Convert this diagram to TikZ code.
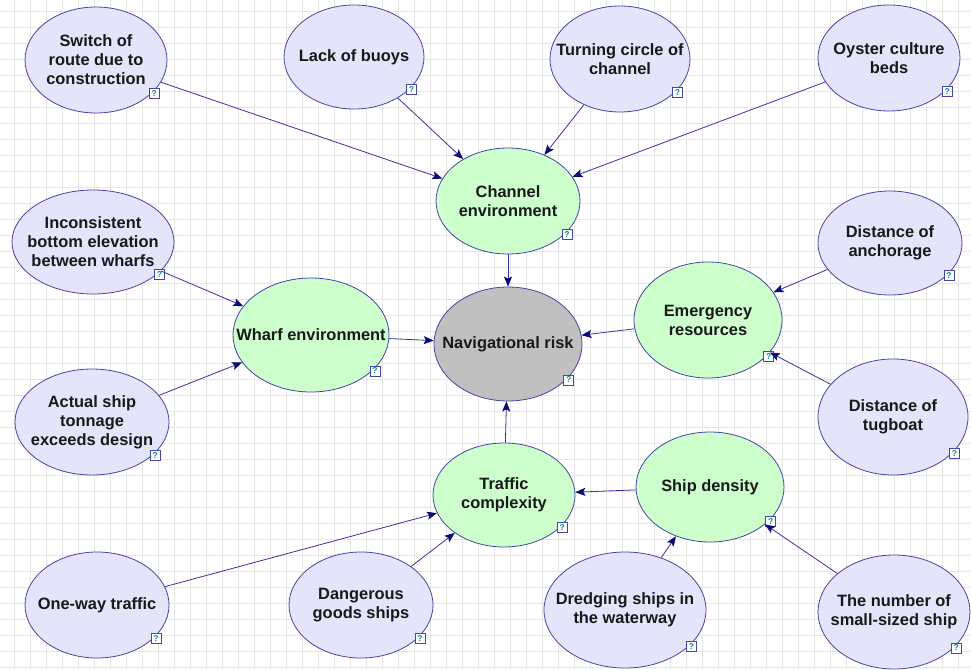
\documentclass[tikz,border=0pt]{standalone}
\usepackage{fontspec}
\setmainfont{Liberation Sans}
\usetikzlibrary{arrows.meta,shapes.geometric}
\definecolor{gridc}{RGB}{230,230,230}
\definecolor{edgec}{RGB}{52,52,160}
\definecolor{tipc}{RGB}{10,10,120}
\definecolor{bordc}{RGB}{70,70,165}
\definecolor{lav}{RGB}{228,228,250}
\definecolor{grn}{RGB}{204,255,204}
\definecolor{gry}{RGB}{192,192,192}
\definecolor{qtext}{RGB}{0,140,150}
\newcommand{\bnode}[7]{%
  \node[ell, fill=#6, minimum width={2*#4pt}, minimum height={2*#5pt}] (#1) at (#2,#3) {};
  \node[lbl] (#1-t) at (#1.center) {#7};
  \node[qbox] (#1-q) at ({#2+0.82*#4},{#3+0.63*#5}) {?};
}
\begin{document}
\begin{tikzpicture}[x=1pt,y=-1pt,
  ell/.style={ellipse, draw=bordc, line width=0.8pt, inner sep=0pt},
  lbl/.style={align=center, inner sep=0pt, font=\fontsize{16.4}{19}\selectfont\bfseries, text=black!90},
  qbox/.style={rectangle, draw=bordc, fill=white, line width=0.6pt, minimum size=10pt, inner sep=0pt, font=\fontsize{8.5}{8.5}\selectfont\bfseries, text=qtext},
  arr/.style={draw=edgec, line width=0.8pt, -{Stealth[length=10pt,width=8pt,inset=2pt,color=tipc]}}]
\useasboundingbox (0,0) rectangle (971,669);
\fill[white] (0,0) rectangle (971,669);
\foreach \gx in {14,30,...,970} \draw[gridc, line width=0.6pt] (\gx,0) -- (\gx,669);
\foreach \gy in {11,27,...,669} \draw[gridc, line width=0.6pt] (0,\gy) -- (971,\gy);

\bnode{sw}{96}{60}{71}{53}{lav}{Switch of\\route due to\\construction}
\bnode{lb}{354}{57}{70}{52}{lav}{Lack of buoys}
\bnode{tc}{620}{59}{70}{53}{lav}{Turning circle of\\channel}
\bnode{oy}{889}{58}{71}{53}{lav}{Oyster culture\\beds}
\bnode{ch}{508}{201}{72}{53}{grn}{Channel\\environment}
\bnode{ic}{93}{242}{81}{52}{lav}{Inconsistent\\bottom elevation\\between wharfs}
\bnode{da}{890}{243}{72}{52}{lav}{Distance of\\anchorage}
\bnode{wh}{311}{335}{78}{57}{grn}{Wharf environment}
\bnode{nr}{508}{344}{74}{57}{gry}{Navigational risk}
\bnode{em}{708}{320}{74}{58}{grn}{Emergency\\resources}
\bnode{as}{92}{422}{77}{53}{lav}{Actual ship\\tonnage\\exceeds design}
\bnode{dt}{893}{417}{75}{58}{lav}{Distance of\\tugboat}
\bnode{tr}{504}{495}{71}{52}{grn}{Traffic\\complexity}
\bnode{sd}{710}{487}{74}{55}{grn}{Ship density}
\bnode{ow}{97}{605}{72}{53}{lav}{One-way traffic}
\bnode{dg}{361}{605}{72}{53}{lav}{Dangerous\\goods ships}
\bnode{dr}{625}{610}{81}{58}{lav}{Dredging ships in\\the waterway}
\bnode{ns}{894}{612}{76}{57}{lav}{The number of\\small-sized ship}

\draw[arr] (sw) -- (ch);
\draw[arr] (lb) -- (ch);
\draw[arr] (tc) -- (ch);
\draw[arr] (oy) -- (ch);
\draw[arr] (ch) -- (nr);
\draw[arr] (ic) -- (wh);
\draw[arr] (as) -- (wh);
\draw[arr] (wh) -- (nr);
\draw[arr] (da) -- (em);
\draw[arr] (dt) -- (em);
\draw[arr] (em) -- (nr);
\draw[arr] (tr) -- (nr);
\draw[arr] (sd) -- (tr);
\draw[arr] (ow) -- (tr);
\draw[arr] (dg) -- (tr);
\draw[arr] (dr) -- (sd);
\draw[arr] (ns) -- (sd);
\end{tikzpicture}
\end{document}
